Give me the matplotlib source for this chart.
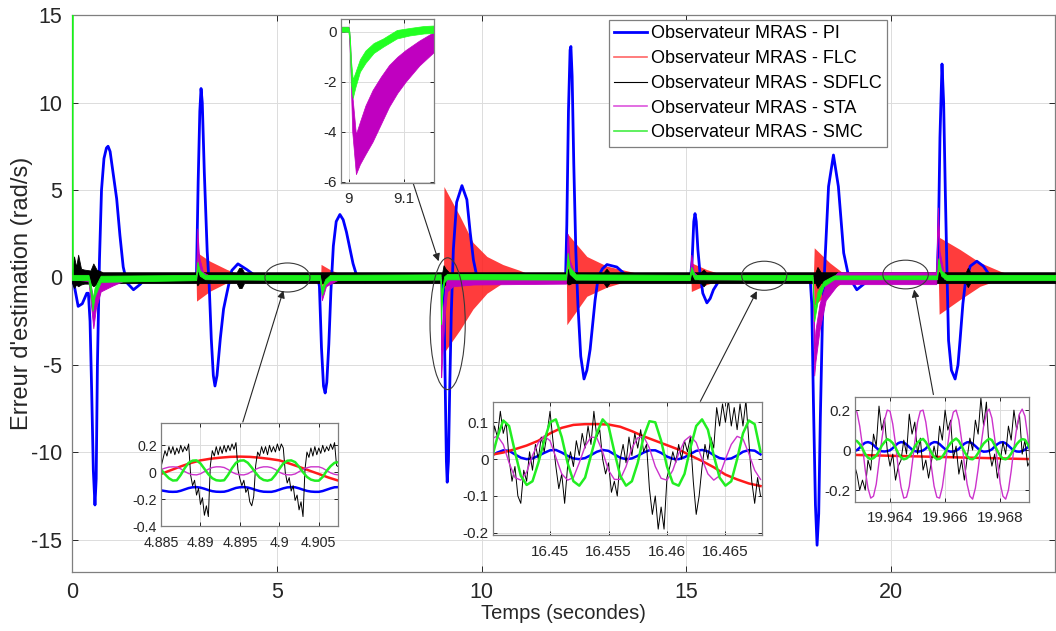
import numpy as np
import matplotlib.pyplot as plt
from matplotlib.patches import Ellipse
from matplotlib.lines import Line2D
from matplotlib.ticker import FormatStrFormatter

plt.rcParams['font.family'] = ['Liberation Sans', 'DejaVu Sans']
plt.rcParams['axes.unicode_minus'] = False

C_PI = '#0000ff'
C_FLC = '#ff1a1a'
C_SDFLC = '#000000'
C_STA = '#c000c0'
C_SMC = '#19f019'

# ---------------- main plot data ----------------
# PI observer error (rad/s)
pi_t = [0, 0.05, 0.15, 0.25, 0.36, 0.4, 0.44, 0.48, 0.52, 0.56, 0.59, 0.62, 0.67, 0.72, 0.78, 0.84, 0.88, 0.93,
        1.0, 1.09, 1.17, 1.25, 1.34, 1.5, 1.66, 1.82,
        3.0, 3.04, 3.08, 3.12, 3.15, 3.18, 3.23, 3.3, 3.35, 3.4, 3.45, 3.49, 3.54, 3.62, 3.7, 3.78, 3.9, 4.05, 4.27, 4.5,
        6.0, 6.04, 6.09, 6.14, 6.18, 6.22, 6.27, 6.32, 6.38, 6.45, 6.54, 6.62, 6.7, 6.78, 6.86, 6.95, 7.05, 7.16, 7.3,
        9.05, 9.08, 9.11, 9.14, 9.16, 9.19, 9.22, 9.26, 9.31, 9.39, 9.52, 9.64, 9.72, 9.8, 9.88, 10.0, 10.13, 10.37,
        12.05, 12.08, 12.12, 12.16, 12.18, 12.21, 12.25, 12.3, 12.35, 12.42, 12.5, 12.57, 12.65, 12.77, 12.85, 12.95,
        13.06, 13.3, 13.54, 13.7,
        15.1, 15.14, 15.18, 15.21, 15.24, 15.28, 15.33, 15.4, 15.5, 15.58, 15.66, 15.82, 15.95,
        18.02, 18.06, 18.1, 18.15, 18.19, 18.23, 18.27, 18.32, 18.38, 18.47, 18.59, 18.71, 18.84, 18.96, 19.16, 19.37, 19.5,
        21.12, 21.15, 21.19, 21.24, 21.28, 21.32, 21.36, 21.4, 21.47, 21.56, 21.63, 21.68, 21.75, 21.81, 21.93, 22.09,
        22.25, 22.42, 22.6, 24]
pi_e = [0, -0.4, -1.65, -1.5, -0.9, -0.9, -2.5, -6.5, -11.0, -13.0, -11.5, -5.0, 1.0, 5.0, 6.8, 7.4, 7.5, 7.2,
        6.0, 4.5, 2.4, 0.6, -0.3, -0.7, -0.4, 0.0,
        0, 0.3, 5.5, 9.5, 10.8, 10.0, 6.0, 1.5, -0.5, -3.5, -5.6, -6.2, -5.6, -3.5, -1.8, -0.9, 0.4, 0.78, 0.45, 0.05,
        0, -0.5, -4.0, -6.2, -6.6, -6.0, -3.8, -0.8, 1.8, 3.2, 3.6, 3.3, 2.6, 1.7, 0.8, 0.1, -0.2, -0.25, 0,
        0, -1.0, -6.0, -10.5, -11.7, -10.5, -6.5, -2.0, 1.6, 4.3, 5.25, 4.45, 2.6, 1.0, 0.1, -0.2, -0.3, 0,
        0, 3.0, 9.5, 13.0, 13.2, 11.5, 6.5, 1.5, -1.5, -4.5, -5.8, -5.3, -4.1, -1.3, 0.07, 0.5,
        0.74, 0.6, 0.1, 0,
        0, 1.0, 3.2, 3.65, 3.2, 1.6, 0.3, -0.9, -1.45, -1.2, -0.7, -0.1, 0,
        0, -1.5, -7.0, -13.0, -15.3, -13.5, -8.0, -2.5, 0.8, 5.2, 7.0, 5.2, 1.4, 0.07, -0.7, -0.3, 0,
        0, 2.0, 8.0, 12.2, 10.0, 5.0, 0.5, -3.6, -5.3, -5.8, -5.0, -3.6, -1.5, -0.3, 0.65, 0.93,
        0.65, 0.07, 0, 0]

# FLC observer: envelope of the fast oscillation
flc_t = [0, 3.03, 3.04, 3.37, 3.78, 4.1, 4.3,
         6.07, 6.08, 6.3, 6.55, 6.85,
         9.07, 9.08, 9.47, 9.79, 10.13, 10.52, 10.94, 11.3,
         12.07, 12.08, 12.57, 13.06, 13.7, 14.2,
         15.11, 15.12, 15.5, 15.9, 16.3,
         18.1, 18.12, 18.5, 18.8, 19.1,
         21.15, 21.17, 21.68, 22.17, 22.66, 23.1, 24]
flc_hi = [0, 0, 1.45, 0.93, 0.46, 0.17, 0.03,
          0, 0.75, 0.45, 0.2, 0.02,
          0, 5.2, 3.5, 2.0, 1.2, 0.74, 0.4, 0.05,
          0, 2.55, 1.2, 0.65, 0.3, 0.02,
          0, 0.84, 0.45, 0.15, 0.02,
          0, 1.7, 0.84, 0.3, 0.03,
          0, 2.3, 1.6, 0.85, 0.36, 0.02, 0]
flc_lo = [0, 0, -1.35, -0.78, -0.3, -0.1, -0.03,
          0, -0.45, -0.25, -0.1, -0.02,
          0, -4.3, -3.0, -1.8, -0.9, -0.3, -0.15, -0.05,
          0, -2.7, -1.07, -0.55, -0.1, -0.02,
          0, -0.8, -0.4, -0.1, -0.02,
          0, -1.6, -0.8, -0.3, -0.03,
          0, -2.1, -1.26, -0.5, -0.1, -0.02, 0]

# SDFLC observer: chattering band
sdflc_t = [0, 0.05, 0.1, 0.15, 0.22, 0.3, 0.45, 0.52, 0.6, 0.75, 3.04, 3.06, 3.1, 4.02, 4.08, 4.14, 4.2,
           9.04, 9.07, 9.12, 9.2, 12.08, 12.12, 12.2, 12.98, 13.05, 13.12, 15.35, 15.42, 15.48,
           18.15, 18.2, 18.28, 21.82, 21.87, 21.93, 24]
sdflc_hi = [0.3, 1.2, 0.6, 1.3, 0.5, 0.45, 0.4, 0.8, 0.45, 0.3, 0.3, 0.6, 0.3, 0.3, 0.55, 0.55, 0.3,
            0.3, 0.7, 0.5, 0.3, 0.3, 0.5, 0.3, 0.3, 0.5, 0.3, 0.3, 0.45, 0.3,
            0.3, 0.6, 0.3, 0.3, 0.55, 0.3, 0.3]
sdflc_lo = [-0.3, -0.6, -0.4, -0.5, -0.4, -0.35, -0.35, -0.5, -0.4, -0.32, -0.32, -0.45, -0.32, -0.32, -0.6, -0.6, -0.32,
            -0.32, -0.5, -0.4, -0.32, -0.32, -0.4, -0.32, -0.32, -0.55, -0.32, -0.32, -0.5, -0.32,
            -0.32, -0.6, -0.32, -0.32, -0.55, -0.32, -0.32]

# STA observer band
sta_t = [0, 0.4, 0.46, 0.52, 0.58, 0.7, 1.0, 1.3, 3.03, 3.06, 3.1, 3.2, 3.4, 6.05, 6.1, 6.2, 6.5,
         8.999, 9.003, 9.013, 9.03, 9.06, 9.1, 9.155, 9.3, 9.8, 12.06, 12.1, 12.15, 12.3,
         15.08, 15.12, 15.18, 15.3, 18.08, 18.1, 18.12, 18.15, 18.25, 18.4, 18.7, 21.1, 21.14, 21.18, 21.3, 24]
sta_hi = [0.05, 0.0, -0.5, -1.2, -0.8, -0.3, -0.1, 0.05, 0.05, 2.8, 1.2, 0.3, 0.05, 0.05, -0.6, -0.2, 0.05,
          0.05, -1.0, -4.1, -2.95, -1.7, -0.8, 0.0, -0.05, -0.1, -0.1, 2.5, 1.0, 0.05,
          0.05, 1.3, 0.3, 0.05, 0.05, -1.0, -4.0, -3.0, -1.5, -0.4, 0.3, 0.3, 4.0, 1.5, 0.1, 0.05]
sta_lo = [-0.1, -0.2, -1.5, -2.9, -1.8, -0.8, -0.45, -0.15, -0.1, 2.2, 0.6, 0.0, -0.1, -0.1, -1.3, -0.5, -0.12,
          -0.1, -2.0, -5.7, -4.9, -3.6, -2.1, -0.8, -0.5, -0.4, -0.35, 1.5, 0.4, -0.1,
          -0.1, 0.9, 0.0, -0.1, -0.1, -2.0, -5.6, -4.8, -3.0, -1.3, -0.38, -0.38, 3.3, 0.8, -0.1, -0.1]

# SMC observer band
smc_t = [0, 0.4, 0.46, 0.5, 0.55, 0.7, 3.03, 3.06, 3.12, 3.25, 6.05, 6.1, 6.18, 6.3,
         9.0, 9.004, 9.007, 9.012, 9.03, 9.062, 9.087, 9.155, 12.06, 12.1, 12.15, 12.3,
         15.08, 15.12, 15.2, 18.08, 18.1, 18.12, 18.2, 18.35, 18.6, 21.12, 21.15, 21.22, 21.35, 24]
smc_hi = [0.15, 0.15, -0.4, -1.3, -0.6, 0.1, 0.15, 0.9, 0.4, 0.15, 0.15, -0.6, -0.1, 0.15,
          0.18, -1.2, -1.9, -1.6, -0.75, -0.27, 0.07, 0.2, 0.18, 1.4, 0.6, 0.18,
          0.15, 0.6, 0.15, 0.15, -1.0, -1.9, -0.8, -0.2, 0.12, 0.12, 1.1, 0.4, 0.15, 0.15]
smc_lo = [-0.15, -0.15, -1.0, -1.9, -1.1, -0.25, -0.15, 0.5, 0.1, -0.1, -0.15, -1.0, -0.4, -0.15,
          -0.12, -2.1, -2.65, -2.2, -1.25, -0.6, -0.27, -0.1, -0.12, 0.9, 0.2, -0.12,
          -0.15, 0.3, -0.1, -0.15, -1.5, -2.5, -1.4, -0.5, -0.1, -0.1, 0.7, 0.1, -0.15, -0.15]
smc_start_t = [0.0, 0.02, 0.03]
smc_start_e = [0.0, 16.0, 0.0]

# ---------------- zoom 1 : t = 9 s (STA, SMC) ----------------
z1_sta_t = [8.985, 8.9995, 9.002, 9.006, 9.0127, 9.02, 9.03, 9.043, 9.058, 9.073, 9.088, 9.103, 9.128, 9.155]
z1_sta_hi = [0.2, 0.2, -0.3, -2.5, -4.1, -3.6, -2.95, -2.33, -1.8, -1.33, -1.0, -0.73, -0.35, 0.0]
z1_sta_lo = [0.0, 0.0, -1.0, -4.0, -5.7, -5.3, -4.9, -4.4, -3.7, -3.0, -2.45, -2.0, -1.35, -0.8]
z1_smc_t = [8.985, 8.999, 9.001, 9.004, 9.007, 9.012, 9.02, 9.03, 9.045, 9.062, 9.087, 9.11, 9.136, 9.155]
z1_smc_hi = [0.2, 0.2, 0.0, -1.2, -1.9, -1.6, -1.1, -0.75, -0.45, -0.27, 0.07, 0.15, 0.23, 0.25]
z1_smc_lo = [0.0, 0.0, -0.3, -2.1, -2.65, -2.2, -1.6, -1.25, -0.85, -0.6, -0.27, -0.15, -0.07, -0.05]

# ---------------- zoom 2 : t ~ 4.9 s ----------------
z2_pi = [-0.135, -0.14, -0.145, -0.146, -0.145, -0.138, -0.128, -0.118, -0.112, -0.111,
         -0.115, -0.123, -0.133, -0.141, -0.145, -0.146, -0.145, -0.138, -0.127, -0.117,
         -0.112, -0.111, -0.114, -0.122, -0.132, -0.14, -0.145, -0.146, -0.146, -0.14,
         -0.13, -0.12, -0.113, -0.111, -0.112, -0.12, -0.13, -0.139, -0.144, -0.146,
         -0.146, -0.14, -0.13, -0.12, -0.112, -0.111]
z2_smc = [0.02, -0.015, -0.045, -0.062, -0.06, -0.02, 0.03, 0.07, 0.086, 0.088,
          0.065, 0.025, -0.015, -0.045, -0.06, -0.063, -0.06, -0.02, 0.03, 0.07,
          0.086, 0.088, 0.07, 0.035, -0.005, -0.04, -0.058, -0.063, -0.055, -0.02,
          0.025, 0.065, 0.085, 0.088, 0.075, 0.04, 0.0, -0.035, -0.055, -0.063,
          -0.063, -0.035, 0.01, 0.045, 0.07, 0.075]
z2_sta = [0.02, 0.03, 0.038, 0.04, 0.038, 0.025, 0.005, -0.01, -0.018, -0.02,
          -0.012, 0.005, 0.022, 0.035, 0.04, 0.04, 0.035, 0.02, 0.0, -0.013,
          -0.019, -0.02, -0.012, 0.005, 0.022, 0.034, 0.04, 0.04, 0.034, 0.02,
          0.0, -0.013, -0.019, -0.02, -0.013, 0.004, 0.02, 0.033, 0.04, 0.04,
          0.04, 0.03, 0.012, -0.005, -0.016, -0.02]
z2_flc = [-0.013, 0.015, 0.043, 0.068, 0.088, 0.1, 0.108, 0.114, 0.116, 0.114,
          0.108, 0.099, 0.088, 0.065, 0.04, 0.013, -0.013, -0.04, -0.063]
z2_sdflc = [0.04, 0.10, 0.16, 0.12, 0.19, 0.14, 0.19, 0.13, 0.18, 0.14, 0.20, 0.15,
            0.19, 0.16, 0.21, -0.02, -0.10, -0.06, -0.17, -0.12, -0.24, -0.19, -0.32, -0.25,
            -0.33, 0.05, 0.16, 0.12, 0.19, 0.13, 0.19, 0.14, 0.20, 0.15, 0.20, 0.16,
            0.21, 0.17, 0.22, 0.02, -0.05, -0.10, -0.06, -0.15, -0.12, -0.22, -0.25, -0.18,
            0.05, 0.15, 0.12, 0.19, 0.14, 0.19, 0.13, 0.20, 0.15, 0.19, 0.15, 0.21,
            0.16, 0.21, 0.18, 0.0, -0.08, -0.04, -0.14, -0.10, -0.21, -0.17, -0.28, -0.22,
            -0.33, 0.02, 0.15, 0.11, 0.18, 0.12, 0.19, 0.13, 0.18, 0.14, 0.20, 0.15,
            0.19, 0.16, 0.21, 0.17, 0.22, 0.05, 0.04]

# ---------------- zoom 3 : t ~ 16.455 s ----------------
z3_pi = [0.01, 0.018, 0.024, 0.0225, 0.013, 0.004, 0.0, 0.002, 0.009, 0.017, 0.024, 0.025,
         0.018, 0.009, 0.002, 0.0, 0.003, 0.011, 0.02, 0.025, 0.0225, 0.013, 0.004, 0.0,
         0.002, 0.009, 0.018, 0.024, 0.024, 0.017, 0.007, 0.001, 0.0, 0.005, 0.014, 0.0225,
         0.025, 0.021, 0.011, 0.003, 0.0, 0.002, 0.01, 0.02, 0.0245, 0.023, 0.013]
z3_smc = [0.0, 0.06, 0.105, 0.09, 0.02, -0.045, -0.07, -0.06, -0.01, 0.05, 0.1, 0.108,
          0.06, -0.01, -0.06, -0.072, -0.05, 0.01, 0.07, 0.108, 0.09, 0.02, -0.045, -0.072,
          -0.06, -0.01, 0.06, 0.103, 0.1, 0.05, -0.02, -0.065, -0.072, -0.04, 0.03, 0.09,
          0.108, 0.08, 0.01, -0.05, -0.072, -0.06, 0.0, 0.07, 0.105, 0.095, 0.02]
z3_sta = [0.055, 0.063, 0.04, -0.01, -0.05, -0.057, -0.035, 0.01, 0.045, 0.063, 0.05, 0.005,
          -0.04, -0.057, -0.05, -0.01, 0.035, 0.06, 0.058, 0.02, -0.03, -0.055, -0.055, -0.02,
          0.03, 0.058, 0.062, 0.03, -0.02, -0.052, -0.057, -0.03, 0.015, 0.05, 0.063, 0.045,
          0.0, -0.04, -0.057, -0.045, 0.0, 0.04, 0.062, 0.055, 0.015, -0.03, -0.055]
z3_flc = [0.012, 0.018, 0.027, 0.037, 0.05, 0.07, 0.085, 0.093, 0.095, 0.095, 0.094, 0.088,
          0.076, 0.062, 0.05, 0.038, 0.026, 0.01, -0.005, -0.022, -0.042, -0.055, -0.066, -0.073]
z3_sdflc = [0.02, 0.09, 0.06, 0.13, 0.07, 0.10, 0.0, -0.06, -0.02, -0.10, -0.12, -0.03,
            -0.06, 0.02, -0.03, 0.04, 0.0, 0.06, 0.02, 0.07, 0.13, 0.05, -0.02, -0.08,
            -0.04, -0.12, -0.02, 0.02, -0.02, 0.05, 0.01, 0.07, 0.03, 0.09, 0.04, 0.13,
            0.06, 0.08, 0.0, -0.04, -0.01, -0.09, -0.06, -0.1, 0.0, 0.04, -0.01, 0.06,
            0.01, 0.07, 0.03, 0.08, 0.02, 0.04, -0.08, -0.15, -0.1, -0.19, -0.13, -0.19,
            -0.05, -0.02, 0.02, -0.01, 0.04, 0.0, 0.05, 0.02, 0.06, -0.06, -0.15, -0.1,
            -0.02, 0.04, 0.0, 0.06, 0.03, 0.14, 0.09, 0.15, 0.1, 0.16, 0.09, 0.14,
            0.08, 0.15, 0.09, 0.16, 0.05, -0.06, -0.12, -0.05, -0.1]

# ---------------- zoom 4 : t ~ 19.966 s ----------------
z4_sta = [0.2, 0.19, 0.12, 0.02, -0.1, -0.19, -0.24, -0.23, -0.17, -0.06, 0.05, 0.15,
          0.2, 0.195, 0.13, 0.03, -0.09, -0.185, -0.24, -0.235, -0.18, -0.075, 0.04, 0.14,
          0.195, 0.2, 0.14, 0.04, -0.08, -0.18, -0.235, -0.24, -0.185, -0.085, 0.03, 0.13,
          0.19, 0.2, 0.15, 0.05, -0.07, -0.17, -0.23, -0.245, -0.19, -0.095, 0.02, 0.12,
          0.185, 0.205, 0.16, 0.06, -0.06, -0.165, -0.23, -0.245, -0.2, -0.105, 0.01, 0.11,
          0.18, 0.205, 0.17, 0.07, -0.05]
z4_smc = [0.05, 0.045, 0.03, 0.008, -0.02, -0.038, -0.045, -0.04, -0.028, -0.005, 0.022, 0.04,
          0.055, 0.048, 0.035, 0.012, -0.016, -0.036, -0.046, -0.042, -0.03, -0.01, 0.018, 0.038,
          0.05, 0.056, 0.04, 0.015, -0.012, -0.034, -0.045, -0.044, -0.033, -0.012, 0.015, 0.035,
          0.048, 0.058, 0.045, 0.02, -0.008, -0.03, -0.044, -0.046, -0.035, -0.015, 0.012, 0.033,
          0.046, 0.057, 0.05, 0.025, -0.004, -0.028, -0.043, -0.046, -0.037, -0.018, 0.008, 0.03,
          0.045, 0.055, 0.052, 0.03, 0.0]
z4_pi = [-0.005, 0.0, 0.012, 0.027, 0.037, 0.04, 0.036, 0.025, 0.012, 0.0, -0.006, -0.007,
         -0.005, -0.001, 0.01, 0.024, 0.035, 0.04, 0.038, 0.028, 0.015, 0.003, -0.005, -0.008,
         -0.006, -0.002, 0.008, 0.022, 0.034, 0.04, 0.039, 0.03, 0.017, 0.005, -0.004, -0.008,
         -0.007, -0.003, 0.006, 0.02, 0.032, 0.039, 0.04, 0.032, 0.02, 0.007, -0.003, -0.008,
         -0.007, -0.004, 0.004, 0.017, 0.03, 0.038, 0.04, 0.034, 0.022, 0.009, -0.002, -0.007,
         -0.008, -0.005, 0.002, 0.015, 0.028]
z4_sdflc = [-0.07, -0.12, -0.2, -0.15, -0.2, -0.05, -0.1, 0.08, 0.02, 0.22, 0.1, 0.16,
            0.0, -0.08, -0.02, -0.15, -0.08, -0.05, 0.05, -0.02, 0.18, 0.08, 0.14, -0.02,
            0.06, -0.1, -0.05, -0.14, -0.06, 0.02, -0.05, 0.12, 0.05, 0.2, 0.1, 0.15,
            -0.04, 0.02, -0.12, -0.05, -0.15, -0.04, 0.06, 0.0, 0.15, 0.08, 0.26, 0.12,
            0.24, 0.0, -0.08, -0.02, -0.14, -0.06, 0.04, -0.02, 0.12, 0.05, 0.2, 0.1,
            0.18, -0.02, 0.05, -0.08, -0.05]
z4_flc_t = [19.9627, 19.9691]
z4_flc = [-0.024, -0.045]

labels = ['Observateur MRAS - PI', 'Observateur MRAS - FLC', 'Observateur MRAS - SDFLC',
          'Observateur MRAS - STA', 'Observateur MRAS - SMC']


def style(a, fs, pad):
    a.grid(True, color='#dcdcdc', lw=0.7)
    a.set_axisbelow(True)
    a.tick_params(direction='in', top=True, right=True, labelsize=fs, colors='#262626',
                  length=4, width=0.7, pad=pad)
    for s in a.spines.values():
        s.set_color('#7f7f7f')
        s.set_linewidth(0.9)


fig = plt.figure(figsize=(10.56, 6.31), dpi=100)
ax = fig.add_axes([0.0682, 0.0935, 0.9309, 0.8827])

ax.fill_between(flc_t, flc_lo, flc_hi, color=C_FLC, alpha=0.85, lw=0, zorder=2)
ax.plot(pi_t, pi_e, color=C_PI, lw=2, zorder=3)
ax.fill_between(sdflc_t, sdflc_lo, sdflc_hi, color=C_SDFLC, lw=0.6, zorder=4)
ax.fill_between(sta_t, sta_lo, sta_hi, color=C_STA, lw=0.6, zorder=5)
ax.fill_between(smc_t, smc_lo, smc_hi, color=C_SMC, lw=0.6, zorder=6)
ax.plot(smc_start_t, smc_start_e, color=C_SMC, lw=0.8, zorder=6)

ax.set_xlim(0, 24)
ax.set_ylim(-16.83, 15)
ax.set_xticks([0, 5, 10, 15, 20])
ax.set_yticks([-15, -10, -5, 0, 5, 10, 15])
style(ax, 15.5, 7)
ax.set_xlabel('Temps (secondes)', fontsize=14.5, color='#262626', labelpad=1)
ax.set_ylabel("Erreur d'estimation (rad/s)", fontsize=17, color='#262626')
ax.yaxis.set_label_coords(-0.04, 0.5)

# ellipses and arrows pointing to the zooms
for c, w, h in [((5.26, 0.0), 1.1, 1.66), ((9.17, -2.64), 0.86, 7.53),
                ((16.9, 0.1), 1.1, 1.66), ((20.35, 0.17), 1.11, 1.64)]:
    ax.add_patch(Ellipse(c, w, h, fill=False, ec='#3a3a3a', lw=0.8, zorder=8))
for tip, tail in [((5.16, -0.74), (4.17, -8.26)), ((8.95, 0.93), (8.32, 5.45)),
                  ((16.72, -0.78), (15.34, -7.08)), ((20.56, -0.69), (21.03, -6.69))]:
    ax.annotate('', xy=tip, xytext=tail,
                arrowprops=dict(arrowstyle='-|>', color='#262626', lw=0.8,
                                mutation_scale=11, shrinkA=0, shrinkB=0), zorder=9)

handles = [Line2D([], [], color=C_PI, lw=2),
           Line2D([], [], color='#ff6666', lw=1.2),
           Line2D([], [], color='k', lw=0.8),
           Line2D([], [], color='#dd55dd', lw=1.2),
           Line2D([], [], color='#44ee44', lw=1.2)]
leg = ax.legend(handles, labels, loc='upper left', bbox_to_anchor=(609 / 1056, 1 - 20 / 631),
                bbox_transform=fig.transFigure, fontsize=13, frameon=True, fancybox=False,
                edgecolor='#7f7f7f', framealpha=1, borderpad=0.3, handlelength=1.8,
                handletextpad=0.2, labelspacing=0.43, borderaxespad=0)
leg.get_frame().set_linewidth(0.9)
leg.set_zorder(20)


def inset(rect, xlim, ylim, xt, yt, fs=11):
    a = fig.add_axes(rect)
    a.set_xlim(xlim)
    a.set_ylim(ylim)
    a.set_xticks(xt)
    a.set_yticks(yt)
    a.xaxis.set_major_formatter(FormatStrFormatter('%g'))
    a.yaxis.set_major_formatter(FormatStrFormatter('%g'))
    style(a, fs, 3)
    a.tick_params(length=3)
    a.tick_params(axis='x', pad=7)
    return a


# zoom 1
a1 = inset([0.3226, 0.7105, 0.0886, 0.259], (8.985, 9.155), (-6.04, 0.5), [9, 9.1], [-6, -4, -2, 0])
a1.fill_between(z1_sta_t, z1_sta_lo, z1_sta_hi, color=C_STA, lw=0.5)
a1.fill_between(z1_smc_t, z1_smc_lo, z1_smc_hi, color='#22ff22', lw=0.5)

# zoom 2
a2 = inset([0.1525, 0.1664, 0.1673, 0.1637], (4.885, 4.9074), (-0.4, 0.368),
           [4.885, 4.89, 4.895, 4.9, 4.905], [-0.4, -0.2, 0, 0.2], fs=10.3)
a2.plot(np.linspace(4.885, 4.9075, len(z2_pi)), z2_pi, color=C_PI, lw=1.8)
a2.plot(np.linspace(4.885, 4.9075, len(z2_flc)), z2_flc, color=C_FLC, lw=1.8)
a2.plot(np.linspace(4.885, 4.9075, len(z2_sdflc)), z2_sdflc, color=C_SDFLC, lw=0.7)
a2.plot(np.linspace(4.885, 4.9075, len(z2_sta)), z2_sta, color='#cc33cc', lw=1.0)
a2.plot(np.linspace(4.885, 4.9075, len(z2_smc)), z2_smc, color='#22ee22', lw=1.8)

# zoom 3
a3 = inset([0.4666, 0.1521, 0.2547, 0.2113], (16.4451, 16.4681), (-0.206, 0.156),
           [16.45, 16.455, 16.46, 16.465], [-0.2, -0.1, 0, 0.1])
a3.plot(np.linspace(16.445, 16.468, len(z3_pi)), z3_pi, color=C_PI, lw=1.8)
a3.plot(np.linspace(16.445, 16.468, len(z3_flc)), z3_flc, color=C_FLC, lw=1.8)
a3.plot(np.linspace(16.445, 16.468, len(z3_sdflc)), z3_sdflc, color=C_SDFLC, lw=0.7)
a3.plot(np.linspace(16.445, 16.468, len(z3_sta)), z3_sta, color='#cc33cc', lw=1.0)
a3.plot(np.linspace(16.445, 16.468, len(z3_smc)), z3_smc, color='#22ee22', lw=1.8)

# zoom 4
a4 = inset([0.8097, 0.2049, 0.1648, 0.1664], (19.96273, 19.96905), (-0.258, 0.267),
           [19.964, 19.966, 19.968], [-0.2, 0, 0.2])
a4.plot(np.linspace(19.9627, 19.9691, len(z4_pi)), z4_pi, color=C_PI, lw=1.8)
a4.plot(z4_flc_t, z4_flc, color=C_FLC, lw=1.8)
a4.plot(np.linspace(19.9627, 19.9691, len(z4_sdflc)), z4_sdflc, color=C_SDFLC, lw=0.7)
a4.plot(np.linspace(19.9627, 19.9691, len(z4_sta)), z4_sta, color='#cc33cc', lw=1.0)
a4.plot(np.linspace(19.9627, 19.9691, len(z4_smc)), z4_smc, color='#22ee22', lw=1.8)

fig.savefig('out.png', dpi=100)
